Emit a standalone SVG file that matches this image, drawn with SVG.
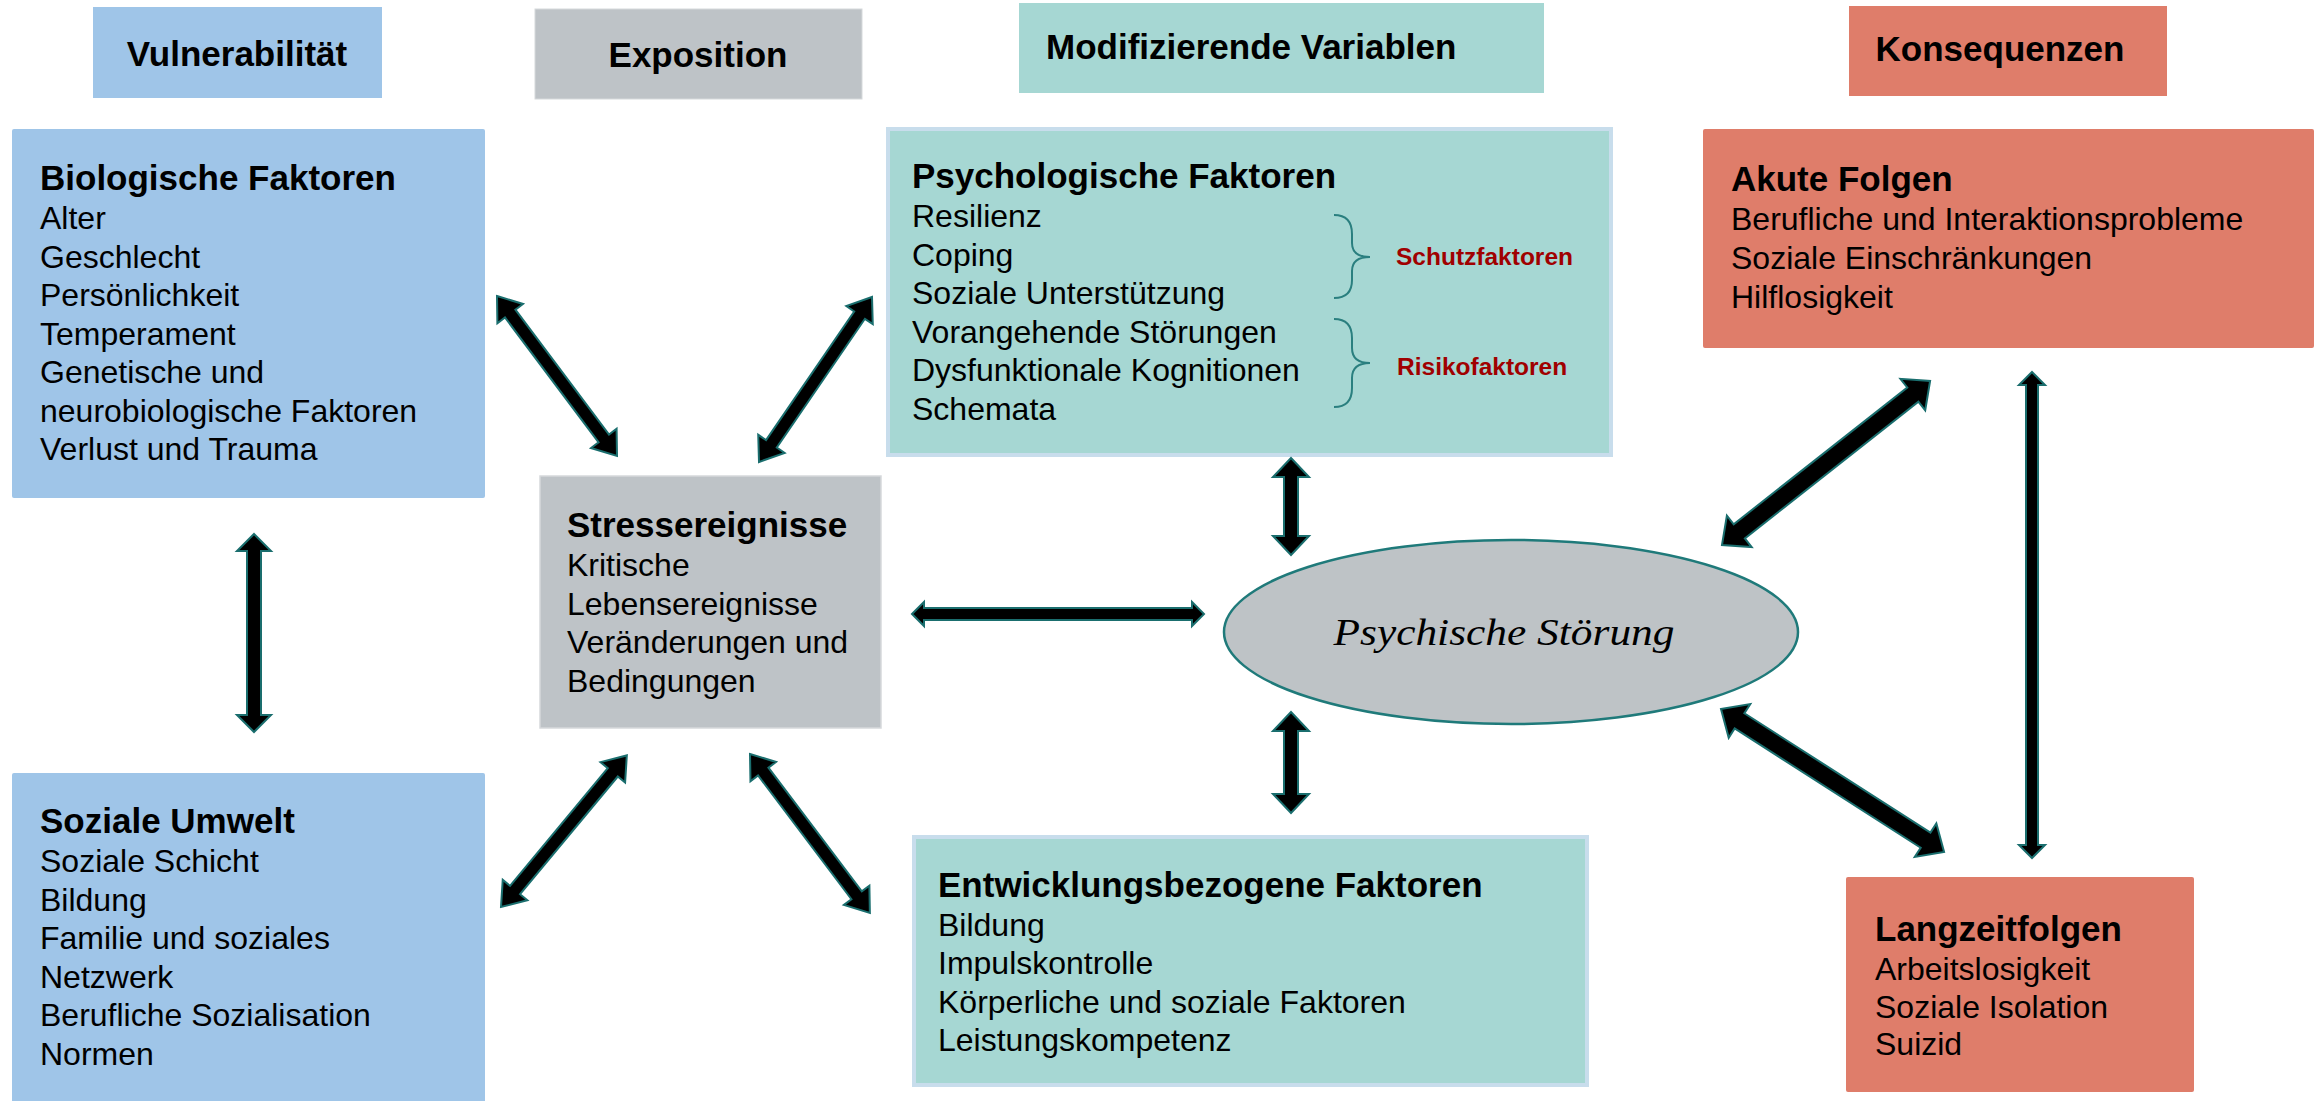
<svg xmlns="http://www.w3.org/2000/svg" width="2323" height="1101" viewBox="0 0 2323 1101">
<style>
  text { font-family: "Liberation Sans", Arial, sans-serif; fill: #000; }
  .hdr { font-size: 35px; font-weight: bold; }
  .ttl { font-size: 35px; font-weight: bold; }
  .bd { font-size: 32px; }
  .red { font-size: 24.5px; font-weight: bold; fill: #A00000; }
  .blue { fill: #9FC5E8; }
  .grey { fill: #BEC3C7; }
  .teal { fill: #A6D7D3; }
  .salmon { fill: #DF7D6A; }
  .arr { fill: #000; stroke: #1A6E6E; stroke-width: 2; stroke-linejoin: miter; }
  .brace { fill: none; stroke: #2A7F7F; stroke-width: 2; }
</style>

<g id="header-vulnerabilitaet">
  <rect class="blue" x="93" y="7" width="289" height="91"/>
  <text class="hdr" x="237" y="66" text-anchor="middle">Vulnerabilität</text>
</g>
<g id="header-exposition">
  <rect class="grey" x="535" y="9" width="327" height="90" stroke="#D6D9DB" stroke-width="1"/>
  <text class="hdr" x="698" y="67" text-anchor="middle">Exposition</text>
</g>
<g id="header-modifizierende">
  <rect class="teal" x="1019" y="3" width="525" height="90"/>
  <text class="hdr" x="1046" y="59">Modifizierende Variablen</text>
</g>
<g id="header-konsequenzen">
  <rect class="salmon" x="1849" y="6" width="318" height="90"/>
  <text class="hdr" x="2000" y="61" text-anchor="middle">Konsequenzen</text>
</g>

<g id="biologische-faktoren">
  <rect class="blue" x="12" y="129" width="473" height="369" rx="2"/>
  <text class="ttl" x="40" y="190">Biologische Faktoren</text>
  <text class="bd" x="40" y="229">Alter</text>
  <text class="bd" x="40" y="267.5">Geschlecht</text>
  <text class="bd" x="40" y="306">Persönlichkeit</text>
  <text class="bd" x="40" y="344.5">Temperament</text>
  <text class="bd" x="40" y="383">Genetische und</text>
  <text class="bd" x="40" y="421.5">neurobiologische Faktoren</text>
  <text class="bd" x="40" y="460">Verlust und Trauma</text>
</g>

<g id="soziale-umwelt">
  <rect class="blue" x="12" y="773" width="473" height="332" rx="2"/>
  <text class="ttl" x="40" y="833">Soziale Umwelt</text>
  <text class="bd" x="40" y="872">Soziale Schicht</text>
  <text class="bd" x="40" y="910.5">Bildung</text>
  <text class="bd" x="40" y="949">Familie und soziales</text>
  <text class="bd" x="40" y="987.5">Netzwerk</text>
  <text class="bd" x="40" y="1026">Berufliche Sozialisation</text>
  <text class="bd" x="40" y="1064.5">Normen</text>
</g>

<g id="stressereignisse">
  <rect class="grey" x="540" y="476" width="341" height="252" stroke="#D6D9DB" stroke-width="1.5"/>
  <text class="ttl" x="567" y="537">Stressereignisse</text>
  <text class="bd" x="567" y="576">Kritische</text>
  <text class="bd" x="567" y="614.5">Lebensereignisse</text>
  <text class="bd" x="567" y="653">Veränderungen und</text>
  <text class="bd" x="567" y="691.5">Bedingungen</text>
</g>

<g id="psychologische-faktoren">
  <rect class="teal" x="888" y="129" width="723" height="326" stroke="#C8DDEC" stroke-width="4"/>
  <text class="ttl" x="912" y="188">Psychologische Faktoren</text>
  <text class="bd" x="912" y="227">Resilienz</text>
  <text class="bd" x="912" y="265.5">Coping</text>
  <text class="bd" x="912" y="304">Soziale Unterstützung</text>
  <text class="bd" x="912" y="342.5">Vorangehende Störungen</text>
  <text class="bd" x="912" y="381">Dysfunktionale Kognitionen</text>
  <text class="bd" x="912" y="419.5">Schemata</text>
  <path class="brace" d="M1334 215 Q1352 215 1352 234 L1352 243 Q1352 257 1370 257 Q1352 257 1352 271 L1352 280 Q1352 298 1334 298"/>
  <path class="brace" d="M1334 319 Q1352 319 1352 338 L1352 348 Q1352 363 1370 363 Q1352 363 1352 378 L1352 388 Q1352 407 1334 407"/>
  <text class="red" x="1396" y="265">Schutzfaktoren</text>
  <text class="red" x="1397" y="375">Risikofaktoren</text>
</g>

<g id="psychische-stoerung">
  <ellipse cx="1511" cy="632" rx="287" ry="92" fill="#BEC3C6" stroke="#1F7A7A" stroke-width="2.5"/>
  <text x="1504" y="645" text-anchor="middle" style="font-family: 'Liberation Serif', 'Times New Roman', serif; font-style: italic; font-size: 38px;" textLength="341" lengthAdjust="spacingAndGlyphs">Psychische Störung</text>
</g>

<g id="entwicklungsbezogene-faktoren">
  <rect class="teal" x="914" y="837" width="673" height="248" stroke="#C8DDEC" stroke-width="4"/>
  <text class="ttl" x="938" y="897">Entwicklungsbezogene Faktoren</text>
  <text class="bd" x="938" y="935.5">Bildung</text>
  <text class="bd" x="938" y="974">Impulskontrolle</text>
  <text class="bd" x="938" y="1012.5">Körperliche und soziale Faktoren</text>
  <text class="bd" x="938" y="1051">Leistungskompetenz</text>
</g>

<g id="akute-folgen">
  <rect class="salmon" x="1703" y="129" width="611" height="219" rx="2"/>
  <text class="ttl" x="1731" y="191">Akute Folgen</text>
  <text class="bd" x="1731" y="230">Berufliche und Interaktionsprobleme</text>
  <text class="bd" x="1731" y="269">Soziale Einschränkungen</text>
  <text class="bd" x="1731" y="308">Hilflosigkeit</text>
</g>

<g id="langzeitfolgen">
  <rect class="salmon" x="1846" y="877" width="348" height="215" rx="2"/>
  <text class="ttl" x="1875" y="941">Langzeitfolgen</text>
  <text class="bd" x="1875" y="980">Arbeitslosigkeit</text>
  <text class="bd" x="1875" y="1017.5">Soziale Isolation</text>
  <text class="bd" x="1875" y="1055">Suizid</text>
</g>

<g id="connectors">
  <polygon class="arr" transform="translate(497,296) rotate(53.13)" points="0,0 22,-16 22,-6.5 178,-6.5 178,-16 200,0 178,16 178,6.5 22,6.5 22,16"/>
  <polygon class="arr" transform="translate(759,462) rotate(-55.6)" points="0,0 22,-16 22,-6.5 178,-6.5 178,-16 200,0 178,16 178,6.5 22,6.5 22,16"/>
  <polygon class="arr" transform="translate(254,534) rotate(90)" points="0,0 17,-17 17,-7 181,-7 181,-17 198,0 181,17 181,7 17,7 17,17"/>
  <polygon class="arr" transform="translate(501,907) rotate(-50.3)" points="0,0 22,-16 22,-6.5 175,-6.5 175,-16 197,0 175,16 175,6.5 22,6.5 22,16"/>
  <polygon class="arr" transform="translate(750,754) rotate(52.96)" points="0,0 22,-16 22,-6.5 177,-6.5 177,-16 199,0 177,16 177,6.5 22,6.5 22,16"/>
  <polygon class="arr" transform="translate(912,614)" points="0,0 12,-12 12,-6 280,-6 280,-12 292,0 280,12 280,6 12,6 12,12"/>
  <polygon class="arr" transform="translate(1291,458) rotate(90)" points="0,0 19,-18 19,-7 78,-7 78,-18 97,0 78,18 78,7 19,7 19,18"/>
  <polygon class="arr" transform="translate(1291,712) rotate(90)" points="0,0 19,-18 19,-7 82,-7 82,-18 101,0 82,18 82,7 19,7 19,18"/>
  <polygon class="arr" transform="translate(1722,545) rotate(-38.25)" points="0,0 22,-20 22,-9 243,-9 243,-20 265,0 243,20 243,9 22,9 22,20"/>
  <polygon class="arr" transform="translate(1721,709) rotate(32.67)" points="0,0 22,-20 22,-9 243,-9 243,-20 265,0 243,20 243,9 22,9 22,20"/>
  <polygon class="arr" transform="translate(2032,372) rotate(90)" points="0,0 13,-13 13,-6 473,-6 473,-13 486,0 473,13 473,6 13,6 13,13"/>
</g>
</svg>
